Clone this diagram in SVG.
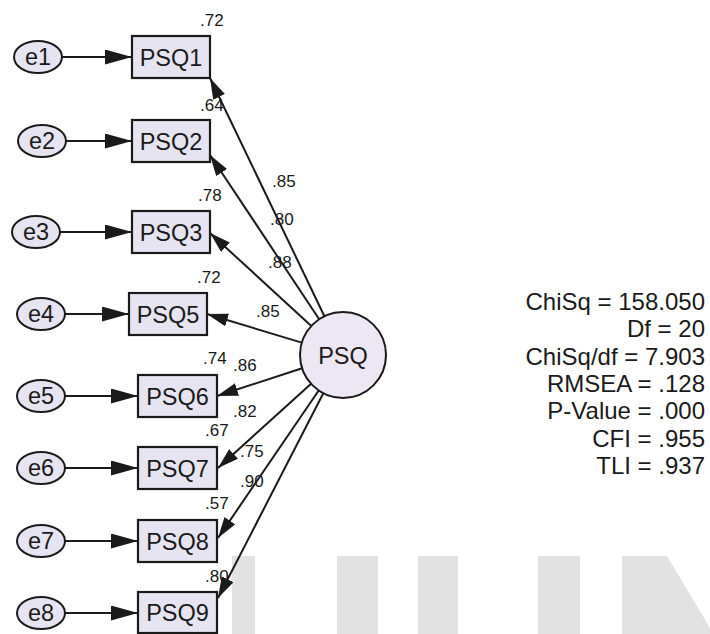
<svg xmlns="http://www.w3.org/2000/svg" width="710" height="634" viewBox="0 0 710 634">
<style>
.bg{fill:#ffffff}
.wm{fill:#e2e2e2}
.obs{fill:#e6e4f0;stroke:#1a1a1a;stroke-width:2.2}
.err{fill:#e6e4f0;stroke:#1a1a1a;stroke-width:2}
.lat{fill:#ece7f3;stroke:#1a1a1a;stroke-width:2}
.lbl{font-family:"Liberation Sans",Arial,sans-serif;font-size:23.5px;fill:#1a1a1a;text-anchor:middle}
.est{font-family:"Liberation Sans",Arial,sans-serif;font-size:17px;fill:#1a1a1a}
.fit{font-family:"Liberation Sans",Arial,sans-serif;font-size:24px;fill:#1a1a1a;text-anchor:end}
.ln{stroke:#1a1a1a;stroke-width:2;fill:none}
</style>
<defs>
<marker id="ah" markerUnits="userSpaceOnUse" markerWidth="28" markerHeight="16" refX="27" refY="7.5" orient="auto">
<path d="M0,0 L27,7.5 L0,15 z" fill="#1a1a1a"/>
</marker>
<marker id="ah2" markerUnits="userSpaceOnUse" markerWidth="22" markerHeight="14" refX="21" refY="6.5" orient="auto">
<path d="M0,0 L21,6.5 L0,13 z" fill="#1a1a1a"/>
</marker>
</defs>
<rect class="bg" x="0" y="0" width="710" height="634"/>
<g id="watermark">
<rect class="wm" x="232" y="556" width="23" height="78"/>
<rect class="wm" x="337" y="556" width="41" height="78"/>
<rect class="wm" x="418" y="556" width="40" height="78"/>
<rect class="wm" x="538" y="556" width="42" height="78"/>
<polygon class="wm" points="622,556 667,556 710,628 710,634 622,634"/>
</g>
<g id="estimates">
<text class="est" x="200" y="26">.72</text>
<text class="est" x="200" y="111">.64</text>
<text class="est" x="272" y="187">.85</text>
<text class="est" x="270" y="225">.80</text>
<text class="est" x="198" y="201">.78</text>
<text class="est" x="268" y="268">.88</text>
<text class="est" x="197" y="283">.72</text>
<text class="est" x="256" y="317">.85</text>
<text class="est" x="203" y="364">.74</text>
<text class="est" x="233" y="371">.86</text>
<text class="est" x="233" y="417">.82</text>
<text class="est" x="205" y="436">.67</text>
<text class="est" x="240" y="457">.75</text>
<text class="est" x="240" y="487">.90</text>
<text class="est" x="205" y="509">.57</text>
<text class="est" x="205" y="582">.80</text>
</g>
<g id="connectors">
<line class="ln" x1="62" y1="57" x2="132" y2="57" marker-end="url(#ah)"/>
<line class="ln" x1="66" y1="141" x2="132" y2="141" marker-end="url(#ah)"/>
<line class="ln" x1="60" y1="232" x2="132" y2="232" marker-end="url(#ah)"/>
<line class="ln" x1="65" y1="314" x2="129" y2="314" marker-end="url(#ah)"/>
<line class="ln" x1="65" y1="396" x2="138" y2="396" marker-end="url(#ah)"/>
<line class="ln" x1="65" y1="468" x2="138" y2="468" marker-end="url(#ah)"/>
<line class="ln" x1="65" y1="541" x2="138" y2="541" marker-end="url(#ah)"/>
<line class="ln" x1="65" y1="613" x2="138" y2="613" marker-end="url(#ah)"/>
<line class="ln" x1="324.4" y1="316.2" x2="210" y2="78" marker-end="url(#ah2)"/>
<line class="ln" x1="319.2" y1="319.2" x2="210" y2="155" marker-end="url(#ah2)"/>
<line class="ln" x1="311.3" y1="325.9" x2="210" y2="233" marker-end="url(#ah2)"/>
<line class="ln" x1="301.8" y1="342.6" x2="207" y2="314" marker-end="url(#ah2)"/>
<line class="ln" x1="302.1" y1="368.3" x2="217" y2="396" marker-end="url(#ah2)"/>
<line class="ln" x1="311.1" y1="383.8" x2="218" y2="468" marker-end="url(#ah2)"/>
<line class="ln" x1="318.7" y1="390.5" x2="218" y2="538" marker-end="url(#ah2)"/>
<line class="ln" x1="323.3" y1="393.2" x2="218" y2="598" marker-end="url(#ah2)"/>
</g>
<g id="e1"><ellipse class="err" cx="38" cy="57" rx="24" ry="16"/><text class="lbl" x="38" y="65">e1</text></g>
<g id="e2"><ellipse class="err" cx="42" cy="141" rx="24" ry="16"/><text class="lbl" x="42" y="149">e2</text></g>
<g id="e3"><ellipse class="err" cx="36" cy="232" rx="24" ry="16"/><text class="lbl" x="36" y="240">e3</text></g>
<g id="e4"><ellipse class="err" cx="41" cy="314" rx="24" ry="16"/><text class="lbl" x="41" y="322">e4</text></g>
<g id="e5"><ellipse class="err" cx="41" cy="396" rx="24" ry="16"/><text class="lbl" x="41" y="404">e5</text></g>
<g id="e6"><ellipse class="err" cx="41" cy="468" rx="24" ry="16"/><text class="lbl" x="41" y="476">e6</text></g>
<g id="e7"><ellipse class="err" cx="41" cy="541" rx="24" ry="16"/><text class="lbl" x="41" y="549">e7</text></g>
<g id="e8"><ellipse class="err" cx="41" cy="613" rx="24" ry="16"/><text class="lbl" x="41" y="621">e8</text></g>
<g id="PSQ1"><rect class="obs" x="132" y="36" width="78" height="42"/><text class="lbl" x="171" y="65.5">PSQ1</text></g>
<g id="PSQ2"><rect class="obs" x="132" y="120" width="78" height="42"/><text class="lbl" x="171" y="149.5">PSQ2</text></g>
<g id="PSQ3"><rect class="obs" x="132" y="211" width="78" height="42"/><text class="lbl" x="171" y="240.5">PSQ3</text></g>
<g id="PSQ5"><rect class="obs" x="129" y="293" width="78" height="42"/><text class="lbl" x="168" y="322.5">PSQ5</text></g>
<g id="PSQ6"><rect class="obs" x="138" y="375" width="79" height="42"/><text class="lbl" x="177.5" y="404.5">PSQ6</text></g>
<g id="PSQ7"><rect class="obs" x="138" y="447" width="79" height="42"/><text class="lbl" x="177.5" y="476.5">PSQ7</text></g>
<g id="PSQ8"><rect class="obs" x="138" y="520" width="79" height="42"/><text class="lbl" x="177.5" y="549.5">PSQ8</text></g>
<g id="PSQ9"><rect class="obs" x="138" y="592" width="79" height="41"/><text class="lbl" x="177.5" y="621">PSQ9</text></g>
<g id="PSQ"><circle class="lat" cx="343" cy="355" r="43"/><text class="lbl" x="343" y="363.5">PSQ</text></g>
<g id="fit">
<text class="fit" x="705" y="310">ChiSq = 158.050</text>
<text class="fit" x="705" y="337">Df = 20</text>
<text class="fit" x="705" y="365">ChiSq/df = 7.903</text>
<text class="fit" x="705" y="392">RMSEA = .128</text>
<text class="fit" x="705" y="419">P-Value = .000</text>
<text class="fit" x="705" y="447">CFI = .955</text>
<text class="fit" x="705" y="474">TLI = .937</text>
</g>
</svg>
